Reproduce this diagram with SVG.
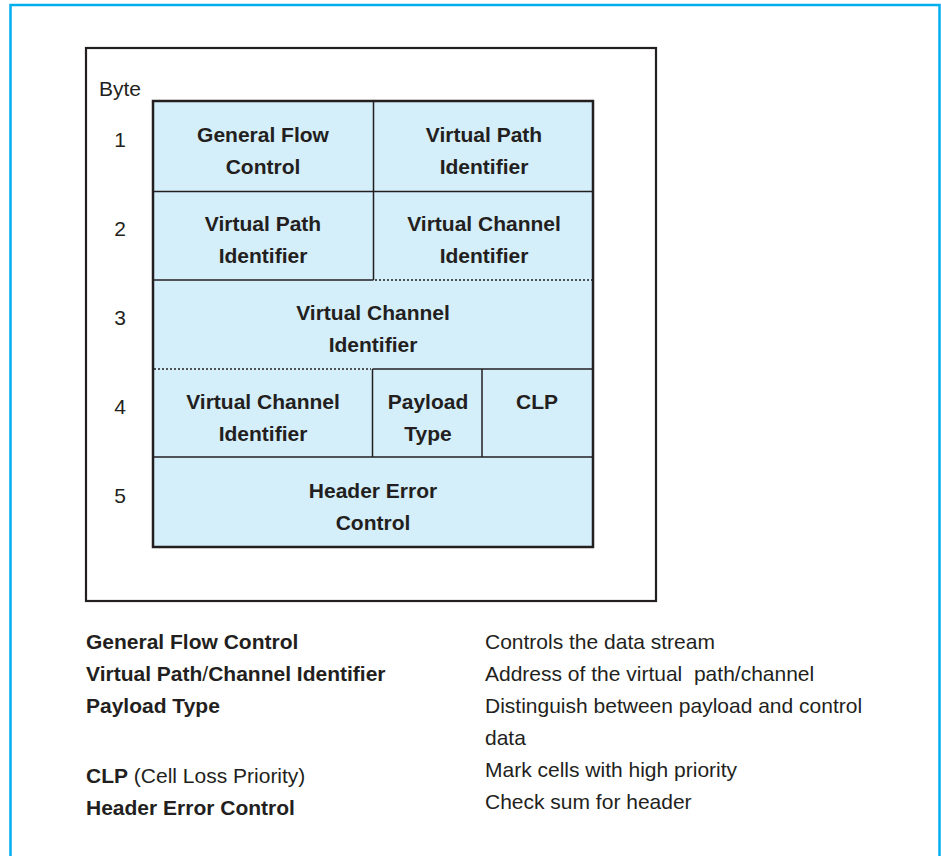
<svg xmlns="http://www.w3.org/2000/svg" width="941" height="856" viewBox="0 0 941 856">
<style>
text{font-family:"Liberation Sans",Arial,sans-serif;font-size:21px;fill:#231f20}
.b{font-weight:bold}
.c{text-anchor:middle}
.cell{fill:#d4eefa;stroke:#231f20;stroke-width:1.5}
.ln{stroke:#231f20;stroke-width:1.5;fill:none}
.dot{stroke:#231f20;stroke-width:1.3;stroke-dasharray:2 2;fill:none}
</style>
<rect width="941" height="856" fill="#fff"/>
<path d="M10.5 856 V5 H939.5 V856" fill="none" stroke="#00aeef" stroke-width="2.5"/>
<rect x="86" y="48" width="570" height="553" fill="none" stroke="#231f20" stroke-width="2.2"/>
<text x="99" y="96">Byte</text>
<g class="c">
<text x="120" y="147" class="c">1</text>
<text x="120" y="236" class="c">2</text>
<text x="120" y="325" class="c">3</text>
<text x="120" y="414" class="c">4</text>
<text x="120" y="503" class="c">5</text>
</g>
<g id="table">
<rect x="153" y="101" width="440" height="446" fill="#d4eefa" stroke="none"/>
</g>
<g id="gfc">
<text class="b c" x="263" y="142">General Flow</text>
<text class="b c" x="263" y="174">Control</text>
</g>
<g id="vpi1">
<text class="b c" x="484" y="142">Virtual Path</text>
<text class="b c" x="484" y="174">Identifier</text>
</g>
<g id="vpi2">
<text class="b c" x="263" y="231">Virtual Path</text>
<text class="b c" x="263" y="263">Identifier</text>
</g>
<g id="vci2">
<text class="b c" x="484" y="231">Virtual Channel</text>
<text class="b c" x="484" y="263">Identifier</text>
</g>
<g id="vci3">
<text class="b c" x="373" y="320">Virtual Channel</text>
<text class="b c" x="373" y="352">Identifier</text>
</g>
<g id="vci4">
<text class="b c" x="263" y="409">Virtual Channel</text>
<text class="b c" x="263" y="441">Identifier</text>
</g>
<g id="pt">
<text class="b c" x="428" y="409">Payload</text>
<text class="b c" x="428" y="441">Type</text>
</g>
<g id="clp">
<text class="b c" x="537" y="409">CLP</text>
</g>
<g id="hec">
<text class="b c" x="373" y="498">Header Error</text>
<text class="b c" x="373" y="530">Control</text>
</g>
<g id="lines">
<path class="ln" d="M373.5 101 V280 M153 191.5 H593 M153 280 H373.5 M372.5 369 H593 M372.5 369 V457 M482 369 V457 M153 457 H593"/>
<path class="dot" d="M375 280 H592 M154 369 H371"/>
<rect x="153" y="101" width="440" height="446" fill="none" stroke="#231f20" stroke-width="2.5"/>
</g>
<g id="legend">
<text class="b" x="86" y="649">General Flow Control</text>
<text x="86" y="681"><tspan class="b">Virtual Path</tspan>/<tspan class="b">Channel Identifier</tspan></text>
<text class="b" x="86" y="713">Payload Type</text>
<text x="86" y="783"><tspan class="b">CLP</tspan> (Cell Loss Priority)</text>
<text class="b" x="86" y="815">Header Error Control</text>
<text x="485" y="649">Controls the data stream</text>
<text x="485" y="681" xml:space="preserve">Address of the virtual  path/channel</text>
<text x="485" y="713">Distinguish between payload and control</text>
<text x="485" y="745">data</text>
<text x="485" y="777">Mark cells with high priority</text>
<text x="485" y="809">Check sum for header</text>
</g>
</svg>
